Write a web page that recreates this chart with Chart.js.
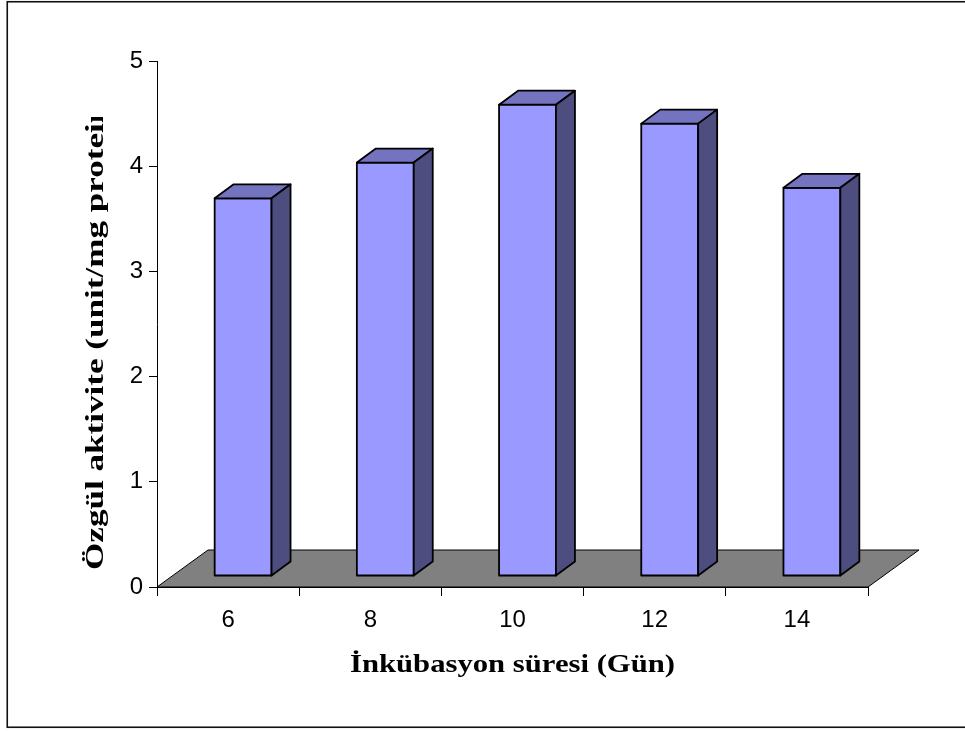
<!DOCTYPE html>
<html>
<head>
<meta charset="utf-8">
<script src="https://cdn.jsdelivr.net/npm/chart.js@4.4.1/dist/chart.umd.min.js"></script>
<style>
  html, body { margin: 0; padding: 0; background: #fff; }
  #wrap { width: 965px; height: 731px; position: relative; }
</style>
</head>
<body>
<div id="wrap"><canvas id="c" width="965" height="731"></canvas></div>
<script>
// Incubation days and specific activity per day
const categories = ['6', '8', '10', '12', '14'];
const activity = [3.59, 3.93, 4.48, 4.30, 3.69];
const yTickValues = [0, 1, 2, 3, 4, 5];
const yTitle = 'Özgül aktivite (unit/mg protein)';
const xTitle = 'İnkübasyon süresi (Gün)';

// Oblique 3D projection of the floor and the columns
const FLOOR_DX = 51, FLOOR_DY = -37;
const FRONT_DX = 15, FRONT_DY = -11;
const SIDE_DX = 19, SIDE_DY = -14;

const COL_FRONT = '#9999FF';
const COL_TOP = '#7373C0';
const COL_SIDE = '#4D4D80';
const COL_FLOOR = '#808080';

const boxes3d = {
  id: 'boxes3d',
  beforeDatasetsDraw(chart) {
    const { ctx, chartArea: { left, right, bottom } } = chart;
    ctx.save();
    ctx.beginPath();
    ctx.moveTo(left, bottom);
    ctx.lineTo(right, bottom);
    ctx.lineTo(right + FLOOR_DX, bottom + FLOOR_DY);
    ctx.lineTo(left + FLOOR_DX, bottom + FLOOR_DY);
    ctx.closePath();
    ctx.fillStyle = COL_FLOOR;
    ctx.fill();
    ctx.lineWidth = 1;
    ctx.strokeStyle = '#000';
    ctx.stroke();
    ctx.restore();
  },
  afterDatasetsDraw(chart) {
    const { ctx } = chart;
    const meta = chart.getDatasetMeta(0);
    ctx.save();
    ctx.lineWidth = 1.8;
    ctx.lineJoin = 'round';
    ctx.strokeStyle = '#000';
    meta.data.forEach(el => {
      const { x, y, base, width } = el.getProps(['x', 'y', 'base', 'width'], true);
      const x0 = x - width / 2 + FRONT_DX;
      const x1 = x0 + width;
      const yt = y + FRONT_DY;
      const yb = base + FRONT_DY;
      // front face
      ctx.beginPath();
      ctx.rect(x0, yt, width, yb - yt);
      ctx.fillStyle = COL_FRONT;
      ctx.fill();
      ctx.stroke();
      // top face
      ctx.beginPath();
      ctx.moveTo(x0, yt);
      ctx.lineTo(x1, yt);
      ctx.lineTo(x1 + SIDE_DX, yt + SIDE_DY);
      ctx.lineTo(x0 + SIDE_DX, yt + SIDE_DY);
      ctx.closePath();
      ctx.fillStyle = COL_TOP;
      ctx.fill();
      ctx.stroke();
      // right side face
      ctx.beginPath();
      ctx.moveTo(x1, yt);
      ctx.lineTo(x1 + SIDE_DX, yt + SIDE_DY);
      ctx.lineTo(x1 + SIDE_DX, yb + SIDE_DY);
      ctx.lineTo(x1, yb);
      ctx.closePath();
      ctx.fillStyle = COL_SIDE;
      ctx.fill();
      ctx.stroke();
    });
    ctx.restore();
  }
};

// Axis titles and the outer frame
const TITLE_FONT = 'bold 26px "Liberation Serif", "Times New Roman", serif';
const titlesAndFrame = {
  id: 'titlesAndFrame',
  afterDraw(chart) {
    const { ctx, chartArea: { left, right, bottom } } = chart;
    ctx.save();
    ctx.fillStyle = '#000';
    ctx.font = TITLE_FONT;
    ctx.textBaseline = 'alphabetic';

    // x axis title, slightly widened
    ctx.save();
    ctx.translate((left + right) / 2, bottom + 85);
    ctx.scale(1.18, 1);
    ctx.textAlign = 'center';
    ctx.fillText(xTitle, 0, 0);
    ctx.restore();

    // y axis title, rotated and cut off at the top
    ctx.save();
    ctx.beginPath();
    ctx.rect(0, 117, 150, 600);
    ctx.clip();
    ctx.translate(103, 570);
    ctx.rotate(-Math.PI / 2);
    ctx.scale(1.35, 1);
    ctx.textAlign = 'left';
    ctx.fillText(yTitle, 0, 0);
    ctx.restore();

    // frame
    ctx.lineWidth = 1.6;
    ctx.strokeStyle = '#111';
    ctx.strokeRect(7.25, 1.75, 980, 725.5);
    ctx.restore();
  }
};

new Chart(document.getElementById('c'), {
  type: 'bar',
  data: {
    labels: categories,
    datasets: [{
      data: activity,
      backgroundColor: 'rgba(0,0,0,0)',
      borderWidth: 0,
      barPercentage: 0.4,
      categoryPercentage: 1.0
    }]
  },
  options: {
    responsive: false,
    animation: false,
    devicePixelRatio: 1,
    layout: { autoPadding: false, padding: { left: 0, top: 61, right: 97, bottom: 0 } },
    plugins: { legend: { display: false }, tooltip: { enabled: false } },
    scales: {
      y: {
        min: 0,
        max: 5,
        afterFit(s) { s.width = 157; },
        afterBuildTicks(s) { s.ticks = yTickValues.map(v => ({ value: v })); },
        ticks: {
          stepSize: 1,
          color: '#000',
          padding: 6,
          font: { family: '"Liberation Sans", Arial, sans-serif', size: 24 }
        },
        grid: { drawOnChartArea: false, tickLength: 8, color: '#000', lineWidth: 1 },
        border: { color: '#000', width: 1 }
      },
      x: {
        afterFit(s) { s.height = 144; },
        ticks: {
          color: '#000',
          padding: 10,
          font: { family: '"Liberation Sans", Arial, sans-serif', size: 24 }
        },
        grid: { offset: true, drawOnChartArea: false, tickLength: 9, color: '#000', lineWidth: 1 },
        border: { color: '#000', width: 1 }
      }
    }
  },
  plugins: [boxes3d, titlesAndFrame]
});
</script>
</body>
</html>
